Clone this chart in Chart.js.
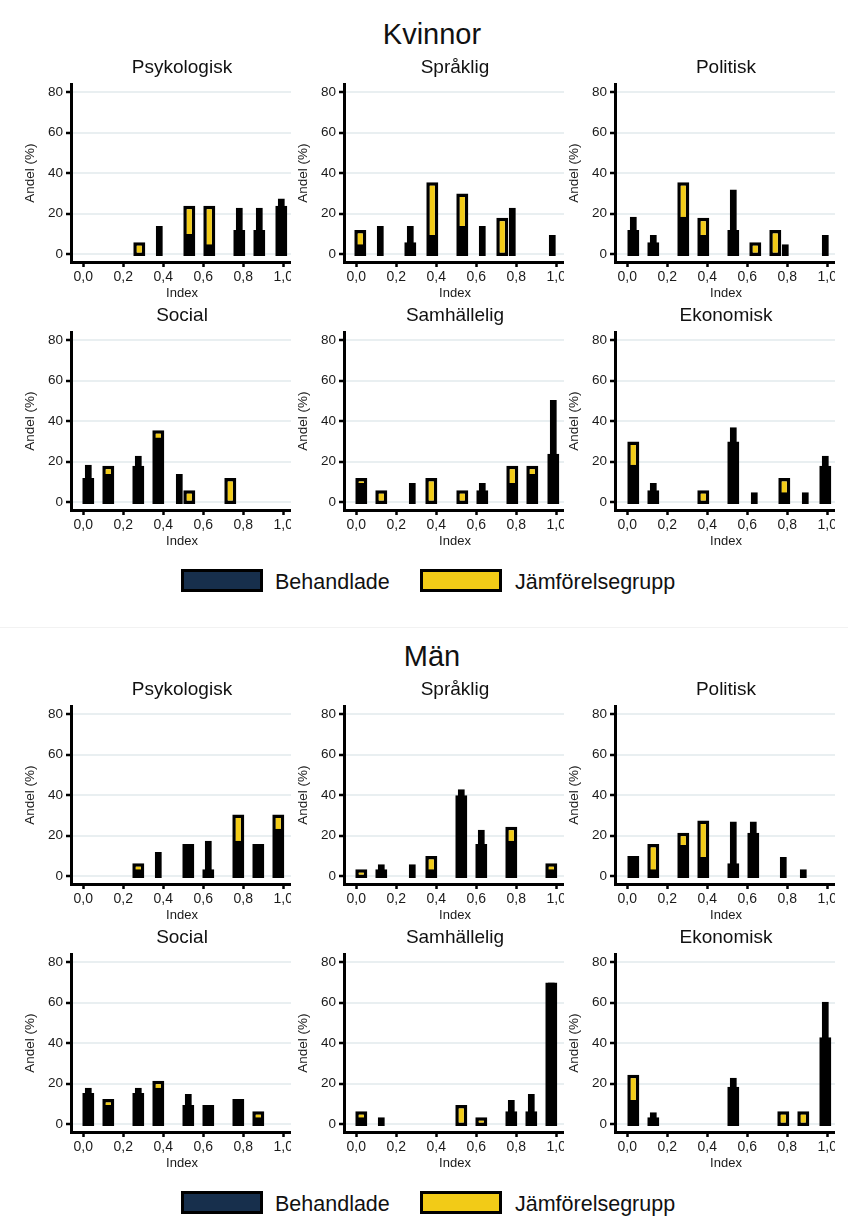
<!DOCTYPE html>
<html>
<head>
<meta charset="utf-8">
<script src="https://cdn.jsdelivr.net/npm/chart.js@4.4.0/dist/chart.umd.min.js"></script>
<style>
    body { margin: 0; background: #fff; font-family: "Liberation Sans", Arial, sans-serif; color: #111; }
    #page { position: relative; width: 848px; height: 1218px; overflow: hidden; }
    .panel { position: absolute; width: 269px; height: 228px; overflow: hidden; }
    .panel canvas { position: absolute; left: 0; top: 0; }
    .ptitle { position: absolute; width: 222px; text-align: center; font-size: 19px; line-height: 20px; white-space: nowrap; }
    .stitle { position: absolute; left: 0; width: 864px; text-align: center; font-size: 29px; line-height: 30px; }
    .lbox { position: absolute; width: 82px; height: 23px; box-sizing: border-box; border: 3.5px solid #000; }
    .ltext { position: absolute; font-size: 21.5px; line-height: 22px; white-space: nowrap; }
    .sep { position: absolute; left: 0; width: 848px; top: 627px; height: 1px; background: #f2f2f2; }
</style>
</head>
<body>
<div id="page"></div>
<script>
const xTicks = [0, 0.2, 0.4, 0.6, 0.8, 1.0];
const yTicks = [0, 20, 40, 60, 80];
const panelNames = ['Psykologisk', 'Språklig', 'Politisk', 'Social', 'Samhällelig', 'Ekonomisk'];
const sectionNames = ['Kvinnor', 'Män'];
const seriesNames = ['Behandlade', 'Jämförelsegrupp'];

// Kvinnor
const kPsykIndex = [0.28, 0.38, 0.53, 0.63, 0.78, 0.88, 0.99];
const kPsykBeh   = [0, 14, 10, 5, 23, 23, 27.5];
const kPsykJmf   = [6, 0, 24, 24, 12, 12, 24];

const kSprIndex = [0.02, 0.12, 0.27, 0.38, 0.53, 0.63, 0.73, 0.78, 0.98];
const kSprBeh   = [5, 14, 14, 9.5, 14, 14, 0, 23, 9.5];
const kSprJmf   = [12, 0, 6, 35.5, 30, 0, 18, 0, 0];

const kPolIndex = [0.03, 0.13, 0.28, 0.38, 0.53, 0.64, 0.74, 0.79, 0.99];
const kPolBeh   = [18.5, 9.5, 18.5, 9.5, 32, 0, 0, 5, 9.5];
const kPolJmf   = [12, 6, 35.5, 18, 12, 6, 12, 0, 0];

const kSocIndex = [0.025, 0.125, 0.275, 0.375, 0.48, 0.53, 0.735];
const kSocBeh   = [18.5, 14, 23, 32, 14, 0, 0];
const kSocJmf   = [12, 18, 18, 35.5, 0, 6, 12];

const kSamIndex = [0.025, 0.125, 0.28, 0.375, 0.53, 0.63, 0.78, 0.88, 0.985];
const kSamBeh   = [9.5, 0, 9.5, 0, 0, 9.5, 9.5, 14, 50.5];
const kSamJmf   = [12, 6, 0, 12, 6, 6, 18, 18, 24];

const kEkoIndex = [0.03, 0.13, 0.38, 0.53, 0.635, 0.785, 0.89, 0.99];
const kEkoBeh   = [18.5, 9.5, 0, 37, 5, 5, 5, 23];
const kEkoJmf   = [30, 6, 6, 30, 0, 12, 0, 18];

// Män
const mPsykIndex = [0.275, 0.375, 0.525, 0.625, 0.775, 0.875, 0.975];
const mPsykBeh   = [3.5, 12, 16, 17.5, 17.5, 16, 23.5];
const mPsykJmf   = [6.5, 0, 16, 3.5, 30.5, 16, 30.5];

const mSprIndex = [0.025, 0.125, 0.28, 0.375, 0.525, 0.625, 0.775, 0.975];
const mSprBeh   = [0, 6, 6, 3.5, 43, 23, 17.5, 3.5];
const mSprJmf   = [3.5, 3.5, 0, 10, 40, 16, 24.5, 6.5];

const mPolIndex = [0.03, 0.13, 0.28, 0.38, 0.53, 0.63, 0.78, 0.88];
const mPolBeh   = [10, 3.5, 15.5, 9.5, 27, 27, 9.5, 3.5];
const mPolJmf   = [10, 16, 21.5, 27.5, 6.5, 21.5, 0, 0];

const mSocIndex = [0.025, 0.125, 0.275, 0.375, 0.525, 0.625, 0.775, 0.875];
const mSocBeh   = [18, 9.5, 18, 18, 15, 9.5, 12.5, 3.5];
const mSocJmf   = [15.5, 12.5, 15.5, 21.5, 9.5, 9.5, 12.5, 6.5];

const mSamIndex = [0.025, 0.125, 0.525, 0.625, 0.775, 0.875, 0.975];
const mSamBeh   = [3.5, 3.5, 0, 0, 12, 15, 70];
const mSamJmf   = [6.5, 0, 9.5, 3.5, 6.5, 6.5, 70];

const mEkoIndex = [0.03, 0.13, 0.53, 0.78, 0.88, 0.99];
const mEkoBeh   = [12, 6, 23, 0, 0, 60.5];
const mEkoJmf   = [24.5, 3.5, 18.5, 6.5, 6.5, 43];

const NAVY = '#172f4c';
const YELLOW = '#f2cb17';
const FONT = '"Liberation Sans", Arial, sans-serif';
const TEXT = '#1a1a1a';

const sections = [
    { top: 0, panels: [
        [kPsykIndex, kPsykBeh, kPsykJmf], [kSprIndex, kSprBeh, kSprJmf], [kPolIndex, kPolBeh, kPolJmf],
        [kSocIndex, kSocBeh, kSocJmf], [kSamIndex, kSamBeh, kSamJmf], [kEkoIndex, kEkoBeh, kEkoJmf]
    ]},
    { top: 622, panels: [
        [mPsykIndex, mPsykBeh, mPsykJmf], [mSprIndex, mSprBeh, mSprJmf], [mPolIndex, mPolBeh, mPolJmf],
        [mSocIndex, mSocBeh, mSocJmf], [mSamIndex, mSamBeh, mSamJmf], [mEkoIndex, mEkoBeh, mEkoJmf]
    ]}
];

const colLeft = [22, 295, 566];
const rowTop = [73, 321];

Chart.defaults.font.family = FONT;
Chart.defaults.color = TEXT;

const page = document.getElementById('page');

function addDiv(cls, left, top, text) {
    const d = document.createElement('div');
    d.className = cls;
    d.style.left = left + 'px';
    d.style.top = top + 'px';
    if (text !== undefined) d.textContent = text;
    page.appendChild(d);
    return d;
}

function points(xs, ys) {
    // skip empty bars
    return xs.map((x, i) => ({ x: x, y: ys[i] })).filter(p => p.y > 0);
}

function barSet(label, data, fill, width, order) {
    return {
        label: label,
        data: data,
        base: -0.8,
        backgroundColor: fill,
        borderColor: '#000',
        borderWidth: 3.5,
        borderSkipped: false,
        inflateAmount: 0,
        barThickness: width,
        grouped: false,
        order: order
    };
}

function makePanel(left, top, name, xs, beh, jmf) {
    const wrap = addDiv('panel', left, top);
    const canvas = document.createElement('canvas');
    canvas.width = 291;
    canvas.height = 228;
    wrap.appendChild(canvas);

    addDiv('ptitle', left + 49, top - 16, name);

    new Chart(canvas.getContext('2d'), {
        type: 'bar',
        data: {
            datasets: [
                barSet(seriesNames[0], points(xs, beh), NAVY, 7, 0),
                barSet(seriesNames[1], points(xs, jmf), YELLOW, 12, 1)
            ]
        },
        options: {
            responsive: false,
            animation: false,
            layout: { padding: { top: 10, right: 20, left: 0, bottom: 0 } },
            plugins: { legend: { display: false }, tooltip: { enabled: false } },
            scales: {
                x: {
                    type: 'linear',
                    min: -0.0615,
                    max: 1.0485,
                    offset: false,
                    afterFit: s => { s.height = 39; },
                    afterBuildTicks: s => { s.ticks = xTicks.map(v => ({ value: v })); },
                    ticks: {
                        callback: v => v.toFixed(1).replace('.', ','),
                        color: TEXT,
                        font: { size: 14 },
                        padding: 2,
                        maxRotation: 0,
                        autoSkip: false
                    },
                    grid: { drawOnChartArea: false, offset: false, tickColor: '#000', tickWidth: 2.5, tickLength: 5 },
                    border: { display: true, color: '#000', width: 3 },
                    title: { display: true, text: 'Index', color: TEXT, font: { size: 13 }, padding: 0 }
                },
                y: {
                    min: -3.8,
                    max: 84,
                    afterFit: s => { s.width = 49; },
                    afterBuildTicks: s => { s.ticks = yTicks.map(v => ({ value: v })); },
                    ticks: { color: TEXT, font: { size: 13.5 }, padding: 3 },
                    grid: { color: '#e9eff1', lineWidth: 2, tickColor: '#000', tickWidth: 2.5, tickLength: 5 },
                    border: { display: true, color: '#000', width: 3 },
                    title: { display: true, text: 'Andel (%)', color: TEXT, font: { size: 13.5 }, padding: 0 }
                }
            }
        }
    });
}

sections.forEach((sec, si) => {
    addDiv('stitle', 0, 18.6 + sec.top, sectionNames[si]);
    sec.panels.forEach((p, i) => {
        const col = i % 3;
        const row = Math.floor(i / 3);
        makePanel(colLeft[col], rowTop[row] + sec.top, panelNames[i], p[0], p[1], p[2]);
    });
    // legend
    const ly = 569 + sec.top;
    const b1 = addDiv('lbox', 181, ly);
    b1.style.background = NAVY;
    addDiv('ltext', 275, ly + 2, seriesNames[0]);
    const b2 = addDiv('lbox', 420, ly);
    b2.style.background = YELLOW;
    addDiv('ltext', 515, ly + 2, seriesNames[1]);
});

addDiv('sep', 0, 627);
</script>
</body>
</html>
